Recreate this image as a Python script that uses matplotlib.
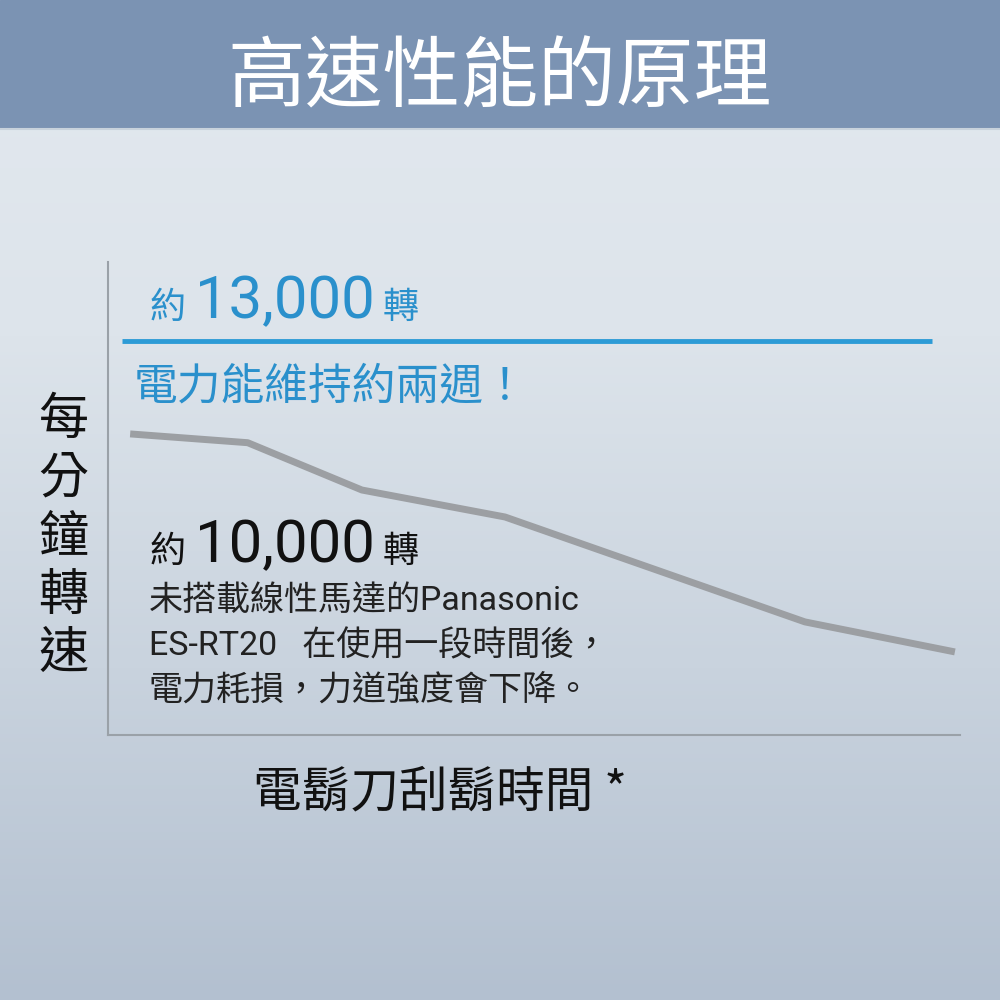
#!/usr/bin/env python3

import matplotlib.pyplot as plt
import numpy as np
from matplotlib.colors import LinearSegmentedColormap

plt.rcParams['font.family'] = ['Noto Sans CJK TC', 'DejaVu Sans']

# shaving time (arbitrary units, ~two weeks) and motor speed (rpm)
linear_time = [1.6, 96.7]
linear_rpm = [13000, 13000]
normal_time = [2.6, 16.4, 29.8, 46.6, 81.8, 99.4]
normal_rpm = [9930, 9640, 8080, 7190, 3730, 2740]

title = '高速性能的原理'
ylabel_chars = ['每', '分', '鐘', '轉', '速']
xlabel = '電鬍刀刮鬍時間 *'
note_lines = ['未搭載線性馬達的Panasonic',
              'ES-RT20   在使用一段時間後，',
              '電力耗損，力道強度會下降。']

fig = plt.figure(figsize=(10, 10), dpi=100)

# background gradient
bg = fig.add_axes([0, 0, 1, 1], zorder=0)
cmap = LinearSegmentedColormap.from_list('bg', ['#b3c0d0', '#c9d3de', '#dde4eb', '#e3e9ef'])
grad = np.linspace(0, 1, 256).reshape(-1, 1)
bg.imshow(grad, aspect='auto', cmap=cmap, extent=[0, 1, 0, 1], origin='lower')
bg.set_xlim(0, 1)
bg.set_ylim(0, 1)
bg.axis('off')

# title banner
bg.add_patch(plt.Rectangle((0, 0.872), 1, 0.128, color='#7b93b3', zorder=2))
bg.plot([0, 1], [0.871, 0.871], color='#c8d2dc', lw=1.5, zorder=2)
fig.text(0.5, 0.92, title, ha='center', va='center', fontsize=56,
         fontweight='medium', color='white', zorder=5)

# chart area
ax = fig.add_axes([0.108, 0.265, 0.852, 0.473], zorder=1)
ax.patch.set_alpha(0)
ax.plot(linear_time, linear_rpm, color='#2d9bd6', lw=3.5, solid_capstyle='butt')
ax.plot(normal_time, normal_rpm, color='#9c9fa3', lw=5, solid_capstyle='butt')
ax.set_xlim(0, 100)
ax.set_ylim(0, 15600)
ax.set_xticks([])
ax.set_yticks([])
for s in ['top', 'right']:
    ax.spines[s].set_visible(False)
for s in ['left', 'bottom']:
    ax.spines[s].set_color('#9aa1a8')
    ax.spines[s].set_linewidth(1.5)

blue = '#2a90cc'
dark = '#111111'
digit_font = ['Roboto', 'DejaVu Sans']
note_font = ['Roboto', 'Noto Sans CJK TC', 'DejaVu Sans']

# upper annotation
ax.text(0.049, 0.882, '約', transform=ax.transAxes, fontsize=26, color=blue,
        va='baseline', ha='left', fontweight='medium')
ax.text(0.102, 0.882, '13,000', transform=ax.transAxes, fontsize=43, color=blue,
        va='baseline', ha='left', family=digit_font)
ax.text(0.322, 0.882, '轉', transform=ax.transAxes, fontsize=26, color=blue,
        va='baseline', ha='left', fontweight='medium')
ax.text(0.03, 0.735, '電力能維持約兩週！', transform=ax.transAxes, fontsize=31.5,
        color=blue, va='center', ha='left')

# lower annotation
ax.text(0.049, 0.366, '約', transform=ax.transAxes, fontsize=26, color=dark,
        va='baseline', ha='left', fontweight='medium')
ax.text(0.102, 0.366, '10,000', transform=ax.transAxes, fontsize=43, color=dark,
        va='baseline', ha='left', family=digit_font)
ax.text(0.322, 0.366, '轉', transform=ax.transAxes, fontsize=26, color=dark,
        va='baseline', ha='left', fontweight='medium')
for i, line in enumerate(note_lines):
    ax.text(0.048, 0.283 - i * 0.095, line, transform=ax.transAxes, fontsize=24.5,
            color='#222222', va='center', ha='left', family=note_font)

# axis labels
for i, ch in enumerate(ylabel_chars):
    fig.text(0.063, 0.58 - i * 0.0585, ch, ha='center', va='center',
             fontsize=36, fontweight='medium', color=dark)
fig.text(0.44, 0.207, xlabel, ha='center', va='center', fontsize=35,
         fontweight='medium', color=dark)

plt.savefig('out.png', dpi=100)
